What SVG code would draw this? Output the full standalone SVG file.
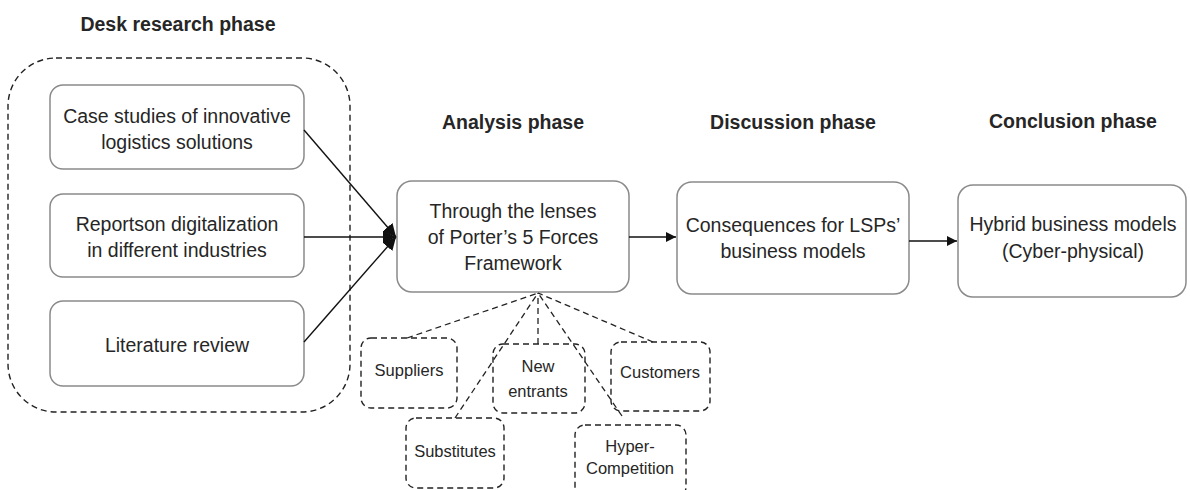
<svg xmlns="http://www.w3.org/2000/svg" width="1190" height="490" viewBox="0 0 1190 490">
<defs>
<style>
.box{fill:#fff;stroke:#8a8a8a;stroke-width:1.5}
.dbox{fill:none;stroke:#222;stroke-width:1.4;stroke-dasharray:6 4}
.t{font-family:"Liberation Sans",Arial,sans-serif;font-size:19.5px;fill:#262626;text-anchor:middle}
.s{font-family:"Liberation Sans",Arial,sans-serif;font-size:16.5px;fill:#262626;text-anchor:middle}
.h{font-family:"Liberation Sans",Arial,sans-serif;font-size:19.5px;font-weight:bold;fill:#262626;text-anchor:middle}
.c{stroke:#111;stroke-width:1.4;fill:none}
.dc{stroke:#222;stroke-width:1.3;fill:none;stroke-dasharray:6 4}
</style>
<marker id="ah" viewBox="0 0 10 10" refX="10" refY="5" markerWidth="10" markerHeight="10" markerUnits="userSpaceOnUse" orient="auto">
<path d="M0,0 L10,5 L0,10 z" fill="#111"/>
</marker>
<marker id="ah2" viewBox="0 0 10 10" refX="10" refY="5" markerWidth="13" markerHeight="13" markerUnits="userSpaceOnUse" orient="auto">
<path d="M0,0 L10,5 L0,10 z" fill="#111"/>
</marker>
</defs>

<g id="titles">
<text class="h" x="178" y="31">Desk research phase</text>
<text class="h" x="513" y="129">Analysis phase</text>
<text class="h" x="793" y="129">Discussion phase</text>
<text class="h" x="1073" y="128">Conclusion phase</text>
</g>

<g id="desk-group">
<rect class="dbox" x="8" y="58" width="342" height="354" rx="48"/>
</g>

<g id="case-studies">
<rect class="box" x="50" y="85" width="254" height="84" rx="13"/>
<text class="t" x="177" y="123">Case studies of innovative</text>
<text class="t" x="177" y="149">logistics solutions</text>
</g>
<g id="reports">
<rect class="box" x="50" y="194" width="254" height="83" rx="13"/>
<text class="t" x="177" y="231">Reportson digitalization</text>
<text class="t" x="177" y="257">in different industries</text>
</g>
<g id="literature">
<rect class="box" x="50" y="301" width="254" height="85" rx="13"/>
<text class="t" x="177" y="352">Literature review</text>
</g>

<g id="analysis">
<rect class="box" x="397" y="181" width="232" height="111" rx="15"/>
<text class="t" x="513" y="218">Through the lenses</text>
<text class="t" x="513" y="244">of Porter’s 5 Forces</text>
<text class="t" x="513" y="270">Framework</text>
</g>
<g id="discussion">
<rect class="box" x="677" y="182" width="232" height="112" rx="15"/>
<text class="t" x="793" y="232">Consequences for LSPs’</text>
<text class="t" x="793" y="258">business models</text>
</g>
<g id="conclusion">
<rect class="box" x="958" y="185" width="228" height="112" rx="15"/>
<text class="t" x="1073" y="231">Hybrid business models</text>
<text class="t" x="1073" y="258">(Cyber-physical)</text>
</g>

<g id="suppliers">
<rect class="dbox" x="361" y="338" width="96" height="70" rx="10"/>
<text class="s" x="409" y="376">Suppliers</text>
</g>
<g id="new-entrants">
<rect class="dbox" x="493" y="344" width="92" height="69" rx="10"/>
<text class="s" x="538" y="372">New</text>
<text class="s" x="538" y="397">entrants</text>
</g>
<g id="customers">
<rect class="dbox" x="611" y="342" width="99" height="69" rx="10"/>
<text class="s" x="660" y="378">Customers</text>
</g>
<g id="substitutes">
<rect class="dbox" x="406" y="418" width="98" height="70" rx="10"/>
<text class="s" x="455" y="457">Substitutes</text>
</g>
<g id="hyper-competition">
<rect class="dbox" x="575" y="425" width="111" height="72" rx="10"/>
<text class="s" x="630" y="452">Hyper-</text>
<text class="s" x="630" y="474">Competition</text>
</g>

<g id="connectors">
<line class="c" x1="304" y1="130" x2="396" y2="237" marker-end="url(#ah2)"/>
<line class="c" x1="304" y1="237" x2="396" y2="237" marker-end="url(#ah2)"/>
<line class="c" x1="304" y1="342" x2="396" y2="237" marker-end="url(#ah2)"/>
<line class="c" x1="629" y1="237" x2="676" y2="237" marker-end="url(#ah)"/>
<line class="c" x1="909" y1="241" x2="957" y2="241" marker-end="url(#ah)"/>
<line class="dc" x1="407" y1="338" x2="538" y2="293"/>
<line class="dc" x1="455" y1="418" x2="538" y2="293"/>
<line class="dc" x1="538" y1="344" x2="538" y2="293"/>
<line class="dc" x1="622" y1="416" x2="538" y2="293"/>
<line class="dc" x1="653" y1="342" x2="538" y2="293"/>
</g>
</svg>
